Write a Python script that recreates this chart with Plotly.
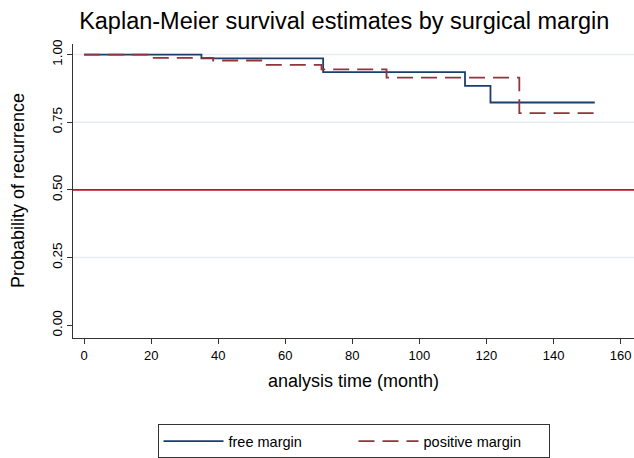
import plotly.graph_objects as go

# Data
free_time = [0, 35, 71.3, 113.6, 121.2, 152.3]
free_surv = [1.0, 0.986, 0.935, 0.884, 0.823, 0.823]
pos_time = [0, 18.9, 38.5, 53.5, 70.8, 90.2, 129.8, 152.3]
pos_surv = [1.0, 0.988, 0.978, 0.962, 0.945, 0.915, 0.784, 0.784]
ref_level = 0.5
grid_levels = [0.25, 0.75, 1.0]
x_ticks = [0, 20, 40, 60, 80, 100, 120, 140, 160]
y_ticks = [0, 0.25, 0.5, 0.75, 1.0]
y_ticklabels = ["0.00", "0.25", "0.50", "0.75", "1.00"]

FONT = "Liberation Sans, Arial, sans-serif"

fig = go.Figure()
fig.add_trace(go.Scatter(x=free_time, y=free_surv, mode="lines", line_shape="hv",
                         name="free margin", line=dict(color="#1a3f6f", width=1.8)))
fig.add_trace(go.Scatter(x=pos_time, y=pos_surv, mode="lines", line_shape="hv",
                         name="positive margin",
                         line=dict(color="#90353b", width=1.8, dash="16px,8px")))

shapes = []
for g in grid_levels:
    shapes.append(dict(type="line", xref="paper", yref="y", x0=0, x1=1, y0=g, y1=g,
                       line=dict(color="#e6edf4", width=1.5), layer="below"))
shapes.append(dict(type="line", xref="paper", yref="y", x0=0, x1=1, y0=ref_level, y1=ref_level,
                   line=dict(color="#c0102a", width=1.6), layer="above"))

fig.update_layout(
    width=634, height=458,
    margin=dict(l=73, r=0, t=44, b=120, autoexpand=False),
    paper_bgcolor="white", plot_bgcolor="white",
    font=dict(family=FONT, color="black"),
    title=dict(text="Kaplan-Meier survival estimates by surgical margin",
               x=0.543, xanchor="center", y=0.955, yanchor="middle",
               font=dict(size=23.5, family=FONT, color="black")),
    shapes=shapes,
    annotations=[dict(text="Probability of recurrence", textangle=-90,
                      xref="paper", yref="paper", x=-0.098, y=0.5,
                      xanchor="center", yanchor="middle", showarrow=False,
                      font=dict(size=18, family=FONT, color="black"))],
    xaxis=dict(range=[-3.3, 164], tickvals=x_ticks, showgrid=False, zeroline=False,
               automargin=False,
               showline=True, linecolor="#333333", linewidth=1.2,
               ticks="outside", ticklen=5, tickcolor="#333333",
               tickfont=dict(size=13),
               title=dict(text="analysis time (month)", font=dict(size=18), standoff=12)),
    yaxis=dict(range=[-0.047, 1.039], tickvals=y_ticks, ticktext=y_ticklabels,
               tickangle=-90, showgrid=False, zeroline=False, automargin=False,
               showline=True, linecolor="#333333", linewidth=1.2,
               ticks="outside", ticklen=5, tickcolor="#333333",
               tickfont=dict(size=13.5)),
    legend=dict(orientation="h", x=0.5, xanchor="center", y=-0.293, yanchor="top",
                bordercolor="#333333", borderwidth=1, font=dict(size=14.5),
                itemwidth=60, entrywidthmode="pixels", entrywidth=120,
                bgcolor="white"),
    showlegend=True,
)

fig.write_html("out.html", config={"displayModeBar": False},
               post_script="document.body.style.margin='0';document.body.style.overflow='hidden';")
